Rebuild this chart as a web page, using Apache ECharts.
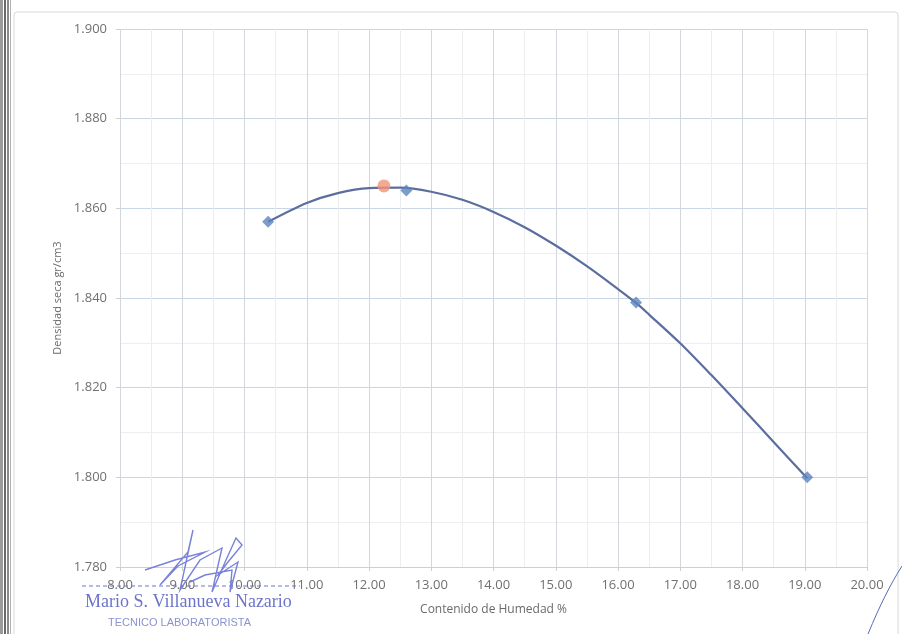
<!DOCTYPE html>
<html>
<head>
<meta charset="utf-8">
<script src="https://cdn.jsdelivr.net/npm/echarts@6/dist/echarts.min.js"></script>
<style>
html,body{margin:0;padding:0;background:#fff;}
#chart{width:902px;height:634px;}
</style>
</head>
<body>
<div id="chart"></div>
<script>
// Measured points (moisture %, dry density g/cm3)
const moisture = [10.38, 12.60, 16.29, 19.04];
const density = [1.857, 1.864, 1.839, 1.800];
// Fitted curve
const curveX = [10.38, 11.00, 11.50, 12.00, 12.50, 13.00, 13.50, 14.00, 14.50, 15.00, 15.50, 16.00, 16.29, 16.50, 17.00, 17.50, 18.00, 18.50, 19.04];
const curveY = [1.8570, 1.8612, 1.8634, 1.8645, 1.8646, 1.8637, 1.8619, 1.8592, 1.8558, 1.8517, 1.8471, 1.8420, 1.8389, 1.8363, 1.8299, 1.8228, 1.8154, 1.8079, 1.7998];
// Maximum dry density point
const maxPoint = [12.24, 1.865];
// Axes
const xMin = 8, xMax = 20, xStep = 1;
const yMin = 1.78, yMax = 1.90, yStep = 0.02;
const xTitle = 'Contenido de Humedad %';
const yTitle = 'Densidad seca gr/cm3';
const signName = 'Mario S. Villanueva Nazario';
const signRole = 'TECNICO LABORATORISTA';

const chart = echarts.init(document.getElementById('chart'), null, {renderer: 'canvas'});
const labelFont = {color: '#707070', fontSize: 13, fontFamily: 'Open Sans, Lato, sans-serif'};
chart.setOption({
  backgroundColor: '#ffffff',
  animation: false,
  grid: {left: 120, right: 35, top: 29, bottom: 67},
  xAxis: {
    type: 'value', min: xMin, max: xMax, interval: xStep,
    name: xTitle, nameLocation: 'middle', nameGap: 37,
    nameTextStyle: {color: '#6a6a6a', fontSize: 12, fontFamily: 'Open Sans, Lato, sans-serif'},
    axisLine: {show: true, lineStyle: {color: '#cfcfcf'}},
    axisTick: {show: true, length: 4, lineStyle: {color: '#cfcfcf'}},
    axisLabel: Object.assign({formatter: v => v.toFixed(2), margin: 12}, labelFont),
    splitLine: {show: true, lineStyle: {color: '#d3d7dc', width: 1}},
    minorTick: {show: false, splitNumber: 2},
    minorSplitLine: {show: true, lineStyle: {color: '#ebedef', width: 1}}
  },
  yAxis: {
    type: 'value', min: yMin, max: yMax, interval: yStep,
    name: yTitle, nameLocation: 'middle', nameGap: 53,
    nameTextStyle: {color: '#6a6a6a', fontSize: 11, fontFamily: 'Open Sans, Lato, sans-serif'},
    axisLine: {show: false},
    axisTick: {show: true, length: 4, lineStyle: {color: '#cfcfcf'}},
    axisLabel: Object.assign({formatter: v => v.toFixed(3), margin: 13}, labelFont),
    splitLine: {show: true, lineStyle: {color: '#c9d6e4', width: 1}},
    minorTick: {show: false, splitNumber: 2},
    minorSplitLine: {show: true, lineStyle: {color: '#eceef0', width: 1}}
  },
  series: [
    {
      type: 'line', smooth: 0.3, symbol: 'none',
      data: curveX.map((x, i) => [x, curveY[i]]),
      lineStyle: {color: '#5b6e9e', width: 2.2},
      z: 2
    },
    {
      type: 'scatter', symbol: 'diamond', symbolSize: 12,
      data: moisture.map((x, i) => [x, density[i]]),
      itemStyle: {color: '#5b84bf'},
      z: 3
    },
    {
      type: 'scatter', symbol: 'circle', symbolSize: 13,
      data: [maxPoint],
      itemStyle: {color: '#f19478'},
      z: 4
    }
  ],
  graphic: [
    {type: 'rect', shape: {x: 14, y: 12, width: 884, height: 640, r: 3}, style: {fill: 'none', stroke: '#d8d8d8', lineWidth: 1}, z: -1},
    {type: 'rect', shape: {x: 0, y: 0, width: 3, height: 634}, style: {fill: '#9a9a9a'}},
    {type: 'rect', shape: {x: 4, y: 0, width: 2, height: 634}, style: {fill: '#6a6a6a'}},
    {type: 'rect', shape: {x: 7, y: 0, width: 2, height: 634}, style: {fill: '#8a8a8a'}},
    {type: 'rect', shape: {x: 10, y: 0, width: 1, height: 634}, style: {fill: '#b0b0b0'}},
    {type: 'line', shape: {x1: 82, y1: 586, x2: 300, y2: 586}, style: {stroke: '#6a78c8', lineWidth: 1.2, lineDash: [4, 3]}, z: 10},
    {type: 'polyline', shape: {points: [[145,570],[175,560],[205,552],[178,566],[160,585],[188,552],[193,530],[180,590],[200,560],[222,548],[212,592],[226,560],[236,538],[242,545],[228,562],[218,575],[238,562],[230,592],[232,570],[205,575],[190,582]]}, style: {stroke: '#7a82d8', lineWidth: 1.4, fill: 'none'}, z: 10},
    {type: 'text', left: 85, top: 593, style: {text: signName, font: '18px "Liberation Serif", "DejaVu Serif", serif', fill: '#6d74c9'}, z: 10},
    {type: 'text', left: 108, top: 617, style: {text: signRole, font: '11px "Liberation Sans", sans-serif', fill: '#8a93d0'}, z: 10},
    {type: 'bezierCurve', shape: {x1: 868, y1: 634, x2: 902, y2: 566, cpx1: 880, cpy1: 605, cpx2: 890, cpy2: 585}, style: {stroke: '#5a6ab8', lineWidth: 1, fill: 'none'}, z: 10}
  ]
});
</script>
</body>
</html>
